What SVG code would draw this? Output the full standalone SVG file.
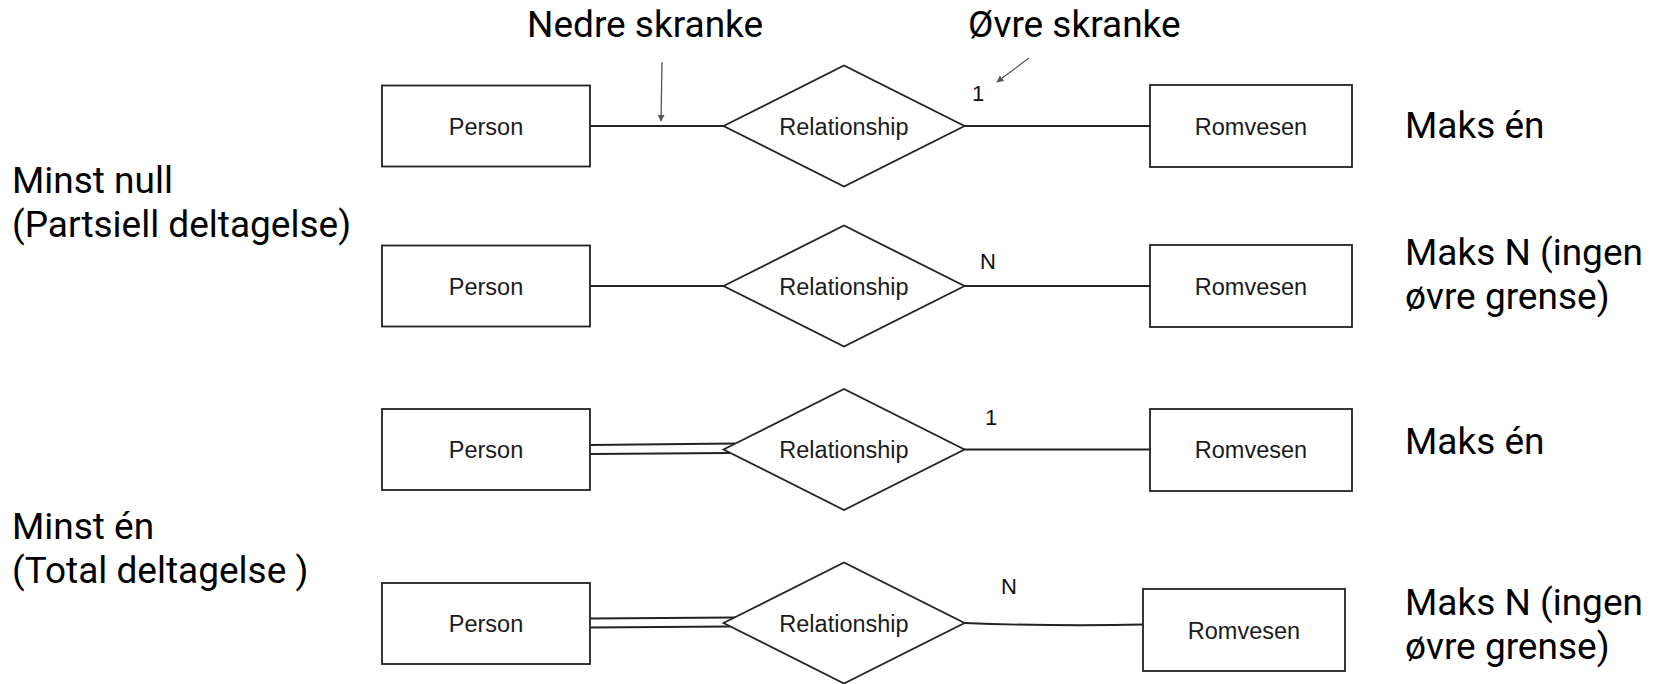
<svg xmlns="http://www.w3.org/2000/svg" width="1660" height="684" viewBox="0 0 1660 684">
  <style>
    .big { font-family: Roboto, "Liberation Sans", sans-serif; font-size: 37px; fill: #000; }
    .lbl { font-family: "Liberation Sans", Arial, sans-serif; font-size: 23.5px; fill: #1b1b1b; text-anchor: middle; }
    .card { font-family: "Liberation Sans", Arial, sans-serif; font-size: 22px; fill: #111; text-anchor: middle; }
    .shape { fill: #fff; stroke: #222; stroke-width: 1.8; }
    .edge { fill: none; stroke: #222; stroke-width: 1.8; }
    .pointer { fill: none; stroke: #555; stroke-width: 1.3; }
  </style>
  <defs>
    <marker id="tip" viewBox="0 0 10 10" refX="9" refY="5" markerWidth="7" markerHeight="7" markerUnits="userSpaceOnUse" orient="auto">
      <path d="M0,0 L10,5 L0,10 Z" fill="#555"/>
    </marker>
  </defs>
  <rect width="1660" height="684" fill="#fff"/>

  <!-- headings and pointer arrows -->
  <g id="headings">
    <text class="big" x="527" y="37">Nedre skranke</text>
    <text class="big" x="968" y="37">Øvre skranke</text>
    <line class="pointer" x1="662" y1="62" x2="661" y2="121" marker-end="url(#tip)"/>
    <line class="pointer" x1="1029" y1="58" x2="997" y2="82" marker-end="url(#tip)"/>
  </g>

  <!-- left side notes -->
  <g id="notes-left">
    <text class="big" x="12" y="193">Minst null</text>
    <text class="big" x="12" y="237">(Partsiell deltagelse)</text>
    <text class="big" x="12" y="539">Minst én</text>
    <text class="big" x="12" y="583">(Total deltagelse )</text>
  </g>

  <!-- right side notes -->
  <g id="notes-right">
    <text class="big" x="1405" y="138">Maks én</text>
    <text class="big" x="1405" y="265">Maks N (ingen</text>
    <text class="big" x="1405" y="309">øvre grense)</text>
    <text class="big" x="1405" y="454">Maks én</text>
    <text class="big" x="1405" y="615">Maks N (ingen</text>
    <text class="big" x="1405" y="659">øvre grense)</text>
  </g>

  <!-- connectors -->
  <g id="connectors">
    <!-- row 1 -->
    <line class="edge" x1="590" y1="126" x2="723.5" y2="126"/>
    <line class="edge" x1="964.5" y1="126" x2="1150" y2="126"/>
    <!-- row 2 -->
    <line class="edge" x1="590" y1="286" x2="723.5" y2="286"/>
    <line class="edge" x1="964.5" y1="286" x2="1150" y2="286"/>
    <!-- row 3: double line = total participation -->
    <line class="edge" x1="590" y1="445" x2="735" y2="443.5"/>
    <line class="edge" x1="590" y1="454" x2="730" y2="453"/>
    <line class="edge" x1="964.5" y1="449.5" x2="1150" y2="449.5"/>
    <!-- row 4 -->
    <line class="edge" x1="590" y1="618.5" x2="735" y2="617.5"/>
    <line class="edge" x1="590" y1="627.5" x2="730" y2="626.5"/>
    <path class="edge" d="M964.5,623 Q1060,626.5 1143,624.5"/>
  </g>

  <!-- cardinality labels -->
  <g id="cardinalities">
    <text class="card" x="978" y="101">1</text>
    <text class="card" x="988" y="269">N</text>
    <text class="card" x="991" y="425">1</text>
    <text class="card" x="1009" y="594">N</text>
  </g>

  <!-- row 1 -->
  <g id="person-1">
    <rect class="shape" x="382" y="85.5" width="208" height="81"/>
    <text class="lbl" x="486" y="134.5">Person</text>
  </g>
  <g id="relationship-1">
    <polygon class="shape" points="723.5,126 844,65.5 964.5,126 844,186.5"/>
    <text class="lbl" x="844" y="134.5">Relationship</text>
  </g>
  <g id="romvesen-1">
    <rect class="shape" x="1150" y="85" width="202" height="82"/>
    <text class="lbl" x="1251" y="134.5">Romvesen</text>
  </g>

  <!-- row 2 -->
  <g id="person-2">
    <rect class="shape" x="382" y="245.5" width="208" height="81"/>
    <text class="lbl" x="486" y="294.5">Person</text>
  </g>
  <g id="relationship-2">
    <polygon class="shape" points="723.5,286 844,225.5 964.5,286 844,346.5"/>
    <text class="lbl" x="844" y="294.5">Relationship</text>
  </g>
  <g id="romvesen-2">
    <rect class="shape" x="1150" y="245" width="202" height="82"/>
    <text class="lbl" x="1251" y="294.5">Romvesen</text>
  </g>

  <!-- row 3 -->
  <g id="person-3">
    <rect class="shape" x="382" y="409" width="208" height="81"/>
    <text class="lbl" x="486" y="458">Person</text>
  </g>
  <g id="relationship-3">
    <polygon class="shape" points="723.5,449.5 844,389 964.5,449.5 844,510"/>
    <text class="lbl" x="844" y="458">Relationship</text>
  </g>
  <g id="romvesen-3">
    <rect class="shape" x="1150" y="409" width="202" height="82"/>
    <text class="lbl" x="1251" y="458">Romvesen</text>
  </g>

  <!-- row 4 -->
  <g id="person-4">
    <rect class="shape" x="382" y="583" width="208" height="81"/>
    <text class="lbl" x="486" y="631.5">Person</text>
  </g>
  <g id="relationship-4">
    <polygon class="shape" points="723.5,623 844,562.5 964.5,623 844,683.5"/>
    <text class="lbl" x="844" y="631.5">Relationship</text>
  </g>
  <g id="romvesen-4">
    <rect class="shape" x="1143" y="589" width="202" height="82"/>
    <text class="lbl" x="1244" y="638.5">Romvesen</text>
  </g>
</svg>
